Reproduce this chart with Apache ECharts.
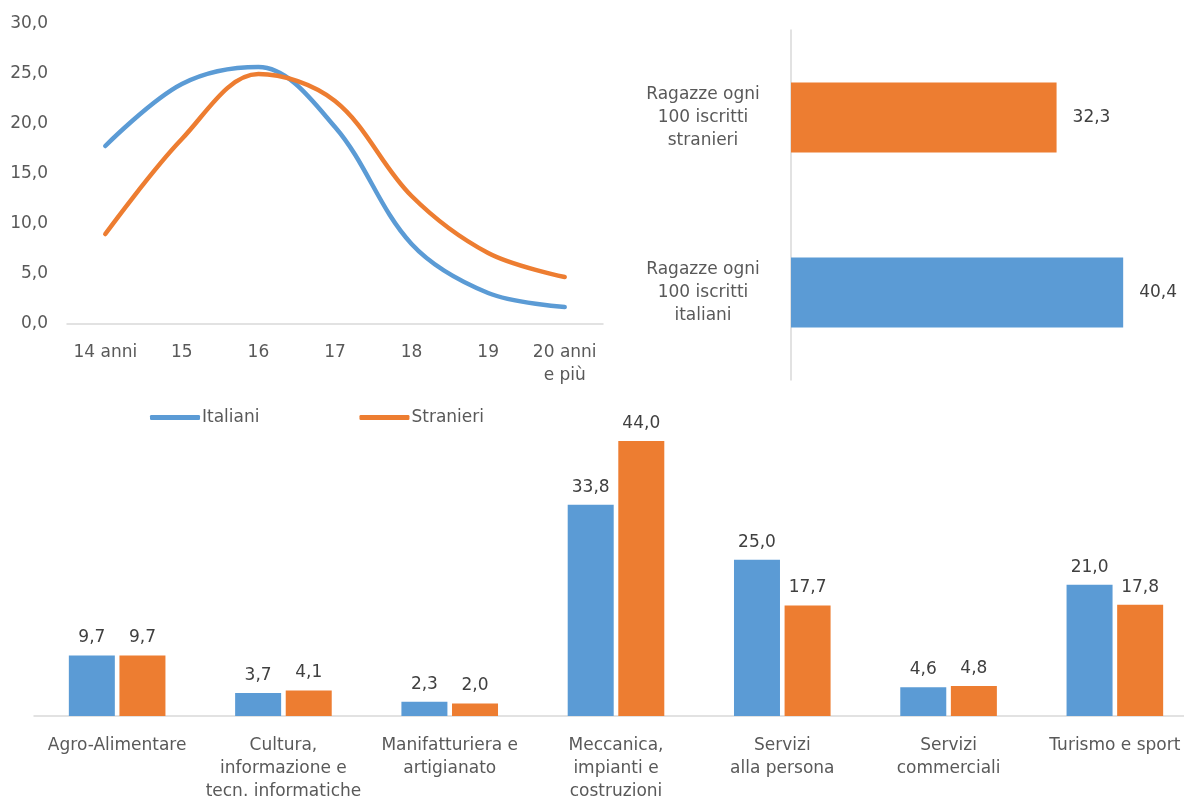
<!DOCTYPE html>
<html>
<head>
<meta charset="utf-8">
<script src="https://cdn.jsdelivr.net/npm/echarts@6/dist/echarts.min.js"></script>
<style>
html,body{margin:0;padding:0;background:#fff;}
#chart{width:1184px;height:798px;}
</style>
</head>
<body>
<div id="chart"></div>
<script>
// Età degli iscritti (%)
const ageCategories = ['14 anni', '15', '16', '17', '18', '19', '20 anni\ne più'];
const ageItaliani = [17.8, 24.0, 25.7, 19.7, 8.0, 3.1, 1.7];
const ageStranieri = [9.0, 18.5, 25.0, 22.3, 12.8, 7.1, 4.7];
const ageTicks = [0, 5, 10, 15, 20, 25, 30];

// Ragazze ogni 100 iscritti
const girlsCategories = ['Ragazze ogni\n100 iscritti\nitaliani', 'Ragazze ogni\n100 iscritti\nstranieri'];
const girlsValues = [40.4, 32.3];

// Settori (%)
const sectorCategories = [
  'Agro-Alimentare',
  'Cultura,\ninformazione e\ntecn. informatiche',
  'Manifatturiera e\nartigianato',
  'Meccanica,\nimpianti e\ncostruzioni',
  'Servizi\nalla persona',
  'Servizi\ncommerciali',
  'Turismo e sport'
];
const sectorItaliani = [9.7, 3.7, 2.3, 33.8, 25.0, 4.6, 21.0];
const sectorStranieri = [9.7, 4.1, 2.0, 44.0, 17.7, 4.8, 17.8];

const BLUE = '#5B9BD5';
const ORANGE = '#ED7D31';
const TEXT = '#595959';
const AXIS = '#D9D9D9';
const FONT = 'DejaVu Sans';
const FS = 17;

const fmt = v => v.toFixed(1).replace('.', ',');

const chart = echarts.init(document.getElementById('chart'));
chart.setOption({
  backgroundColor: '#fff',
  animation: false,
  textStyle: { fontFamily: FONT },
  legend: {
    data: ['Italiani', 'Stranieri'],
    left: 145,
    top: 404,
    icon: 'roundRect',
    itemWidth: 50,
    itemHeight: 5,
    itemGap: 100,
    textStyle: { color: TEXT, fontSize: FS, fontFamily: FONT, padding: [0, 0, 0, -3] }
  },
  grid: [
    { left: 67, top: 24, width: 536, height: 300, outerBoundsMode: 'none' },
    { left: 791, top: 30, width: 370, height: 350, outerBoundsMode: 'none' },
    { left: 34, top: 403.5, width: 1164, height: 312.5, outerBoundsMode: 'none' }
  ],
  xAxis: [
    {
      gridIndex: 0, type: 'category', data: ageCategories, boundaryGap: true,
      axisLine: { lineStyle: { color: AXIS, width: 1.5 } },
      axisTick: { show: false },
      axisLabel: { color: TEXT, fontSize: FS, margin: 17, lineHeight: 23, fontFamily: FONT, interval: 0 }
    },
    {
      gridIndex: 1, type: 'value', min: 0, max: 45, show: false
    },
    {
      gridIndex: 2, type: 'category', data: sectorCategories,
      axisLine: { lineStyle: { color: AXIS, width: 1.5 } },
      axisTick: { show: false },
      axisLabel: { color: TEXT, fontSize: FS, margin: 18, lineHeight: 23, fontFamily: FONT, interval: 0 }
    }
  ],
  yAxis: [
    {
      gridIndex: 0, type: 'value', min: ageTicks[0], max: ageTicks[ageTicks.length - 1], interval: 5,
      axisLine: { show: false }, axisTick: { show: false },
      splitLine: { show: false },
      axisLabel: { color: TEXT, fontSize: FS, margin: 19, fontFamily: FONT, formatter: v => fmt(v) }
    },
    {
      gridIndex: 1, type: 'category', data: girlsCategories,
      axisLine: { lineStyle: { color: AXIS, width: 1.5 } },
      axisTick: { show: false },
      axisLabel: { color: TEXT, fontSize: FS, margin: 88, align: 'center', lineHeight: 23, fontFamily: FONT }
    },
    {
      gridIndex: 2, type: 'value', min: 0, max: 50, show: false
    }
  ],
  series: [
    {
      name: 'Italiani', type: 'line', xAxisIndex: 0, yAxisIndex: 0,
      data: ageItaliani, smooth: 0.35, symbol: 'none',
      lineStyle: { color: BLUE, width: 4.5, cap: 'round' }, itemStyle: { color: BLUE }
    },
    {
      name: 'Stranieri', type: 'line', xAxisIndex: 0, yAxisIndex: 0,
      data: ageStranieri, smooth: 0.35, symbol: 'none',
      lineStyle: { color: ORANGE, width: 4.5, cap: 'round' }, itemStyle: { color: ORANGE }
    },
    {
      name: 'Ragazze', type: 'bar', xAxisIndex: 1, yAxisIndex: 1,
      barWidth: 70,
      data: girlsValues.map((v, i) => ({ value: v, itemStyle: { color: i === 0 ? BLUE : ORANGE } })),
      label: { show: true, position: 'right', distance: 16, color: '#404040', fontSize: FS, fontFamily: FONT, formatter: p => fmt(p.value) }
    },
    {
      name: 'Italiani', type: 'bar', xAxisIndex: 2, yAxisIndex: 2,
      data: sectorItaliani, barWidth: 46, barGap: '10%',
      itemStyle: { color: BLUE },
      label: { show: true, position: 'top', distance: 9, color: '#404040', fontSize: FS, fontFamily: FONT, formatter: p => fmt(p.value) }
    },
    {
      name: 'Stranieri', type: 'bar', xAxisIndex: 2, yAxisIndex: 2,
      data: sectorStranieri, barWidth: 46, barGap: '10%',
      itemStyle: { color: ORANGE },
      label: { show: true, position: 'top', distance: 9, color: '#404040', fontSize: FS, fontFamily: FONT, formatter: p => fmt(p.value) }
    }
  ]
});
</script>
</body>
</html>
